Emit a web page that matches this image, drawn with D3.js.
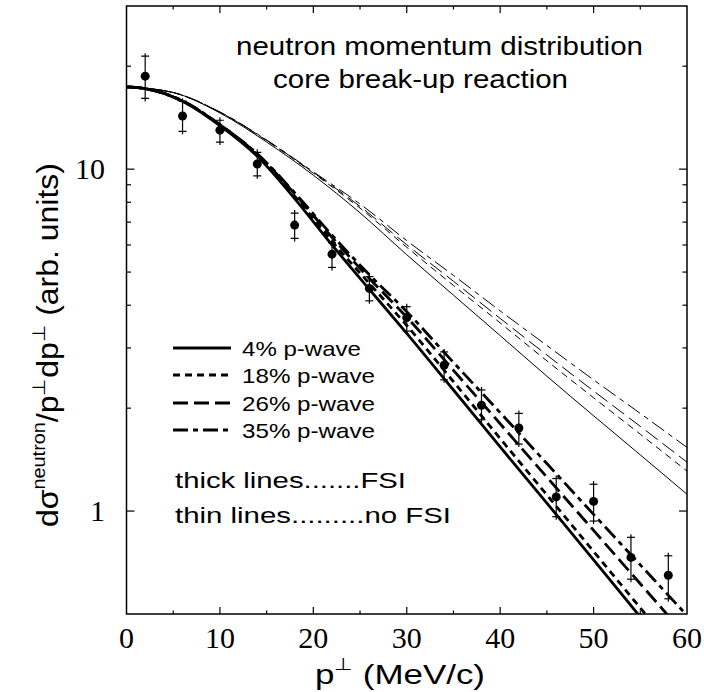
<!DOCTYPE html>
<html><head><meta charset="utf-8">
<script src="https://cdn.jsdelivr.net/npm/d3@7"></script>
<style>html,body{margin:0;padding:0;background:#fff;}svg{display:block;}</style>
</head><body>
<script>
// ---- data ----
const xTicks = [0,10,20,30,40,50,60];
const xMinor = [5,15,25,35,45,55];
const yMajor = [1,10];
const yMinor = [2,3,4,5,6,7,8,9,20];

const dataX  = [2,6,10,14,18,22,26,30,34,38,42,46,50,54,58];
const dataY  = [18.7,14.3,13.0,10.35,6.86,5.64,4.48,3.68,2.67,2.04,1.75,1.10,1.067,0.732,0.649];
const dataHi = [21.4,15.8,13.9,11.2,7.44,6.1,4.85,3.96,2.92,2.26,1.93,1.245,1.198,0.838,0.74];
const dataLo = [16.1,12.9,12.0,9.56,6.27,5.16,4.12,3.36,2.42,1.85,1.57,0.963,0.935,0.632,0.554];

const thickX = [0,2,6,10,14,18,22,26,30,35,40,45,50,55,60];
const thick4  = [17.4,17.2,15.8,13.4,10.9,8.2,6.0,4.45,3.31,2.26,1.54,1.055,0.72,0.49,0.334];
const thick18 = [17.4,17.2,15.8,13.45,10.97,8.34,6.15,4.63,3.49,2.39,1.63,1.115,0.762,0.521,0.356];
const thick26 = [17.4,17.2,15.8,13.5,11.04,8.47,6.32,4.79,3.69,2.58,1.80,1.256,0.878,0.613,0.428];
const thick35 = [17.4,17.2,15.85,13.5,11.09,8.53,6.41,4.91,3.83,2.72,1.94,1.377,0.978,0.696,0.495];

const thinX = [0,5,10,15,20,25,30,35,40,45,50,55,60];
const thin4  = [17.4,16.75,14.6,12.0,9.6,7.45,5.62,4.28,3.26,2.48,1.90,1.46,1.12];
const thin18 = [17.4,16.75,14.67,12.11,9.73,7.69,5.91,4.57,3.55,2.75,2.145,1.678,1.309];
const thin26 = [17.4,16.75,14.67,12.14,9.78,7.78,6.01,4.70,3.66,2.86,2.245,1.769,1.39];
const thin35 = [17.4,16.75,14.70,12.17,9.82,7.91,6.18,4.89,3.85,3.05,2.42,1.93,1.535];

const legendLabels = ["4% p-wave","18% p-wave","26% p-wave","35% p-wave"];
const dashes = [null,"7,5","15,6","15,5,5,5"];

// ---- layout ----
const W = 704, H = 692;
const L = 126.5, R = 687, T = 6, B = 614;
const x = d3.scaleLinear().domain([0,60]).range([L,R]);
const y = d3.scaleLog().domain([0.5,30]).range([B,T]);
const SERIF = "Liberation Serif";
const SANS = "Liberation Sans";

const svg = d3.select("body").append("svg").attr("width",W).attr("height",H);
svg.append("defs").append("clipPath").attr("id","clip")
  .append("rect").attr("x",L).attr("y",T).attr("width",R-L).attr("height",B-T);

// frame
svg.append("rect").attr("x",L).attr("y",T).attr("width",R-L).attr("height",B-T)
  .attr("fill","none").attr("stroke","#000").attr("stroke-width",1.5);

// ticks
function ticks(g, vals, len, orient){
  vals.forEach(v=>{
    if(orient==="b") g.append("line").attr("x1",x(v)).attr("x2",x(v)).attr("y1",B).attr("y2",B-len);
    if(orient==="t") g.append("line").attr("x1",x(v)).attr("x2",x(v)).attr("y1",T).attr("y2",T+len);
    if(orient==="l") g.append("line").attr("y1",y(v)).attr("y2",y(v)).attr("x1",L).attr("x2",L+len);
    if(orient==="r") g.append("line").attr("y1",y(v)).attr("y2",y(v)).attr("x1",R).attr("x2",R-len);
  });
}
const tg = svg.append("g").attr("stroke","#000").attr("stroke-width",1.2);
ticks(tg, xTicks.slice(1,-1), 7, "b"); ticks(tg, xMinor, 3.5, "b");
ticks(tg, xTicks.slice(1,-1), 7, "t"); ticks(tg, xMinor, 3.5, "t");
ticks(tg, yMajor, 8, "l"); ticks(tg, yMinor, 4.5, "l");
ticks(tg, yMajor, 8, "r"); ticks(tg, yMinor, 4.5, "r");

// tick labels
xTicks.forEach(v=>svg.append("text").attr("x",x(v)).attr("y",648).attr("text-anchor","middle")
  .attr("font-family",SERIF).attr("font-size",30).text(v));
yMajor.forEach(v=>svg.append("text").attr("x",105).attr("y",y(v)+10).attr("text-anchor","end")
  .attr("font-family",SERIF).attr("font-size",30).text(v));

// curves
const line = (xs)=>d3.line().x((d,i)=>x(xs[i])).y(d=>y(d)).curve(d3.curveMonotoneX);
const cg = svg.append("g").attr("clip-path","url(#clip)").attr("fill","none").attr("stroke","#000");
[thin4,thin18,thin26,thin35].forEach((s,i)=>{
  cg.append("path").attr("d",line(thinX)(s)).attr("stroke-width",1).attr("stroke-dasharray",dashes[i]);
});
[thick4,thick18,thick26,thick35].forEach((s,i)=>{
  cg.append("path").attr("d",line(thickX)(s)).attr("stroke-width",2.8).attr("stroke-dasharray",dashes[i]);
});

// data points
const pg = svg.append("g").attr("clip-path","url(#clip)").attr("stroke","#000").attr("fill","#000");
dataX.forEach((v,i)=>{
  const cx = x(v);
  pg.append("line").attr("x1",cx).attr("x2",cx).attr("y1",y(dataHi[i])-3).attr("y2",y(dataLo[i])+3).attr("stroke-width",1.2);
  pg.append("line").attr("x1",cx-4).attr("x2",cx+4).attr("y1",y(dataHi[i])).attr("y2",y(dataHi[i])).attr("stroke-width",1.2);
  pg.append("line").attr("x1",cx-4).attr("x2",cx+4).attr("y1",y(dataLo[i])).attr("y2",y(dataLo[i])).attr("stroke-width",1.2);
  pg.append("circle").attr("cx",cx).attr("cy",y(dataY[i])).attr("r",4.5).attr("stroke","none");
});

// texts
function stxt(xp, yp, size, len, str){
  return svg.append("text").attr("x",xp).attr("y",yp).attr("font-family",SANS).attr("font-size",size)
    .attr("textLength",len).attr("lengthAdjust","spacingAndGlyphs").text(str);
}
stxt(236,55,25,407,"neutron momentum distribution");
stxt(273,88,25,295,"core break-up reaction");

// legend
const legY = [348,375,403,430];
const legW = [119,133,133,133];
legendLabels.forEach((t,i)=>{
  svg.append("line").attr("x1",173).attr("x2",231).attr("y1",legY[i]).attr("y2",legY[i])
    .attr("stroke","#000").attr("stroke-width",2.8).attr("stroke-dasharray",dashes[i]);
  stxt(242, legY[i]+7.5, 21, legW[i], t);
});
stxt(175,488,22,231,"thick lines.......FSI");
stxt(175,523,22,276,"thin lines.........no FSI");

// x title
const xt = svg.append("text").attr("x",315).attr("y",684).attr("font-family",SANS).attr("font-size",28)
  .attr("textLength",170).attr("lengthAdjust","spacingAndGlyphs");
xt.append("tspan").text("p");
xt.append("tspan").attr("dy",-14).attr("font-size",17).text("⊥");
xt.append("tspan").attr("dy",14).text(" (MeV/c)");

// y title
const yt = svg.append("text").attr("transform","translate(58,345) rotate(-90)").attr("text-anchor","middle")
  .attr("font-family",SANS).attr("font-size",29).attr("textLength",364).attr("lengthAdjust","spacingAndGlyphs");
yt.append("tspan").text("dσ");
yt.append("tspan").attr("dy",-13).attr("font-size",18).text("neutron");
yt.append("tspan").attr("dy",13).text("/p");
yt.append("tspan").attr("dy",-13).attr("font-size",18).text("⊥");
yt.append("tspan").attr("dy",13).text("dp");
yt.append("tspan").attr("dy",-13).attr("font-size",18).text("⊥");
yt.append("tspan").attr("dy",13).text(" (arb. units)");
</script>
</body></html>
